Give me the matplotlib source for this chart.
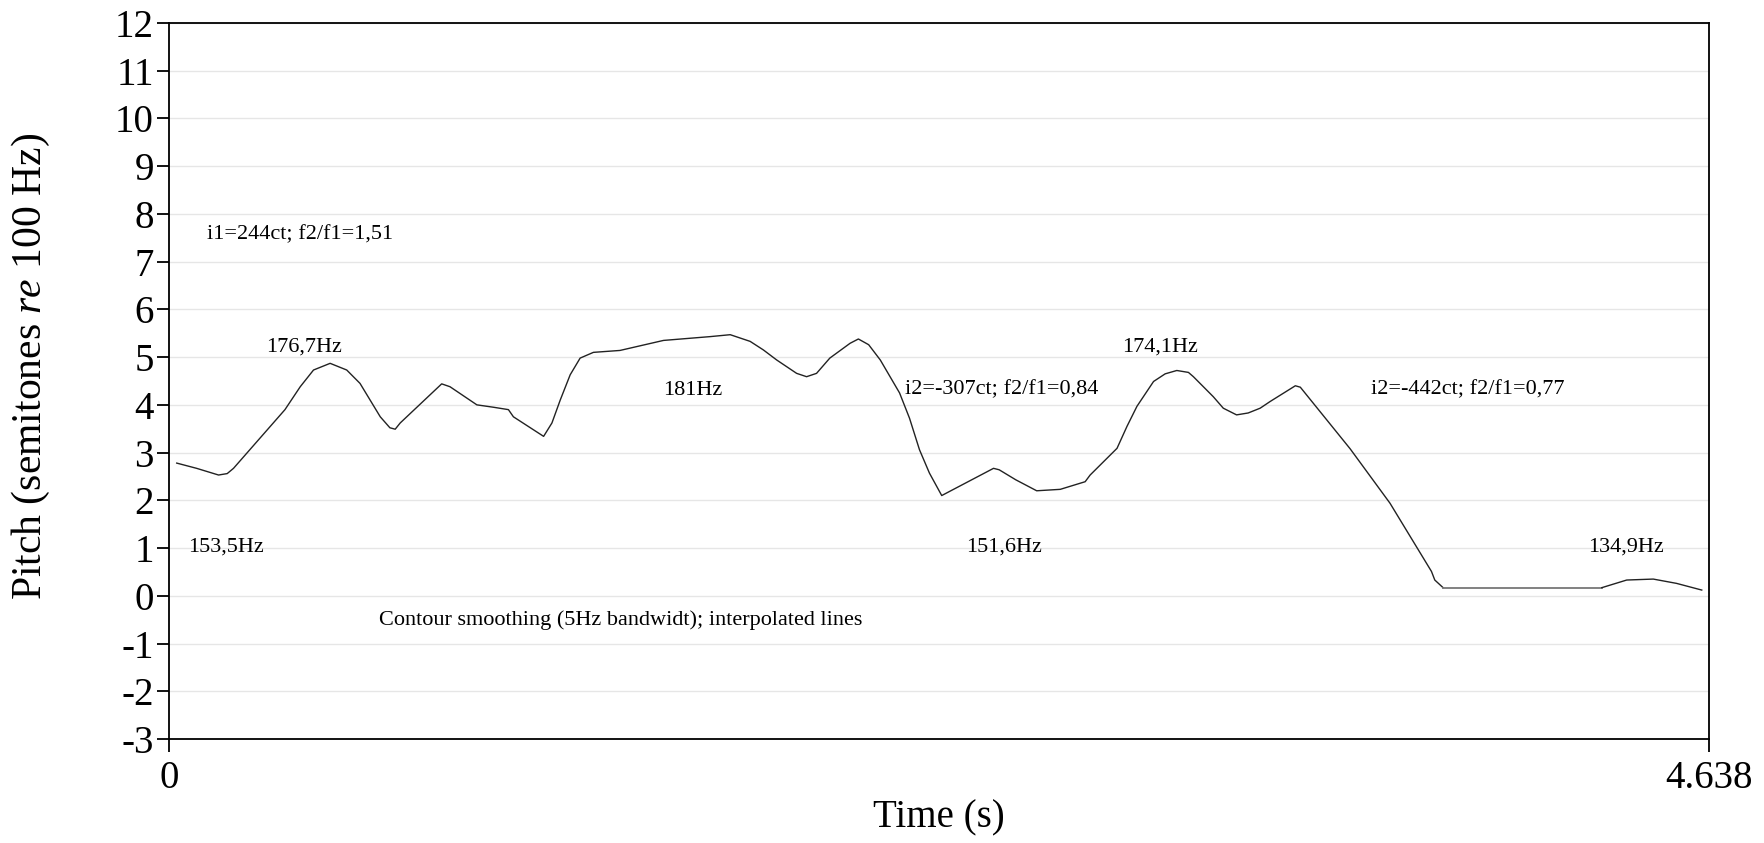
import matplotlib
matplotlib.use('Agg')
import matplotlib.pyplot as plt
import numpy as np

plt.rcParams['font.family'] = ['Liberation Serif', 'DejaVu Serif']
plt.rcParams['mathtext.fontset'] = 'custom'
plt.rcParams['mathtext.rm'] = 'Liberation Serif'
plt.rcParams['mathtext.it'] = 'Liberation Serif:italic'
plt.rcParams['axes.unicode_minus'] = False

# pitch contour, semitones re 100 Hz
t = [0.023, 0.083, 0.149, 0.175, 0.194, 0.349, 0.395, 0.435, 0.485, 0.535,
     0.575, 0.636, 0.665, 0.681, 0.696, 0.821, 0.846, 0.927, 0.977, 1.022,
     1.037, 1.128, 1.153, 1.178, 1.208, 1.238, 1.278, 1.358, 1.489, 1.63,
     1.69, 1.75, 1.79, 1.83, 1.89, 1.92, 1.95, 1.99, 2.051, 2.076,
     2.107, 2.142, 2.20, 2.23, 2.26, 2.29, 2.327, 2.483, 2.50, 2.55,
     2.613, 2.684, 2.759, 2.774, 2.855, 2.885, 2.915, 2.965, 3.0, 3.035,
     3.07, 3.085, 3.145, 3.175, 3.215, 3.25, 3.286, 3.316, 3.392, 3.407,
     3.557, 3.677, 3.802, 3.812, 3.837]
st = [2.78, 2.67, 2.53, 2.56, 2.67, 3.90, 4.38, 4.73, 4.87, 4.73,
      4.45, 3.75, 3.52, 3.49, 3.62, 4.44, 4.38, 4.00, 3.95, 3.90,
      3.75, 3.34, 3.62, 4.10, 4.63, 4.98, 5.10, 5.14, 5.35, 5.43,
      5.47, 5.33, 5.15, 4.94, 4.66, 4.59, 4.66, 4.98, 5.29, 5.38,
      5.26, 4.94, 4.25, 3.72, 3.06, 2.57, 2.10, 2.67, 2.64, 2.43,
      2.20, 2.23, 2.39, 2.53, 3.09, 3.55, 3.97, 4.49, 4.65, 4.72,
      4.68, 4.59, 4.17, 3.93, 3.79, 3.83, 3.93, 4.07, 4.40, 4.37,
      3.08, 1.94, 0.51, 0.33, 0.17]
# interpolated (flat) part
t_interp = [3.837, 4.315]
st_interp = [0.17, 0.17]
# last voiced part
t_end = [4.315, 4.39, 4.47, 4.54, 4.616]
st_end = [0.17, 0.33, 0.35, 0.26, 0.12]

labels = ['i1=244ct; f2/f1=1,51', '176,7Hz', '181Hz', 'i2=-307ct; f2/f1=0,84',
          '174,1Hz', 'i2=-442ct; f2/f1=0,77', '153,5Hz', '151,6Hz', '134,9Hz',
          'Contour smoothing (5Hz bandwidt); interpolated lines']
lab_x = [0.114, 0.292, 1.488, 2.217, 2.87, 3.62, 0.057, 2.40, 4.274, 0.633]
lab_y = [7.56, 5.22, 4.31, 4.31, 5.22, 4.31, 1.03, 1.02, 1.03, -0.51]

fig = plt.figure(figsize=(17.65, 8.43), dpi=100)
ax = fig.add_axes([0.0958, 0.1234, 0.8725, 0.8493])

ax.plot(t, st, color='#222222', lw=1.0)
ax.plot(t_interp, st_interp, color='#777777', lw=1.3)
ax.plot(t_end, st_end, color='#222222', lw=1.0)

for s, x, y in zip(labels, lab_x, lab_y):
    ax.text(x, y, s, fontsize=16, va='center', ha='left')

ax.set_xlim(0, 4.638)
ax.set_ylim(-3, 12)
ax.set_yticks(np.arange(-3, 13, 1))
ax.set_xticks([0, 4.638])
ax.set_xticklabels(['0', '4.638'])
ax.yaxis.grid(True, color='#e6e6e6', lw=1)
ax.set_axisbelow(True)
ax.tick_params(axis='both', labelsize=28, length=9, width=1.3, pad=2)
ax.tick_params(axis='x', pad=6)
for sp in ax.spines.values():
    sp.set_linewidth(1.3)

ax.set_xlabel('Time (s)', fontsize=28, labelpad=2)
ax.set_ylabel('Pitch (semitones $\\mathit{re}$ 100 Hz)', fontsize=30)
ax.yaxis.set_label_coords(-0.076, 0.52)

plt.savefig('out.png', dpi=100)
